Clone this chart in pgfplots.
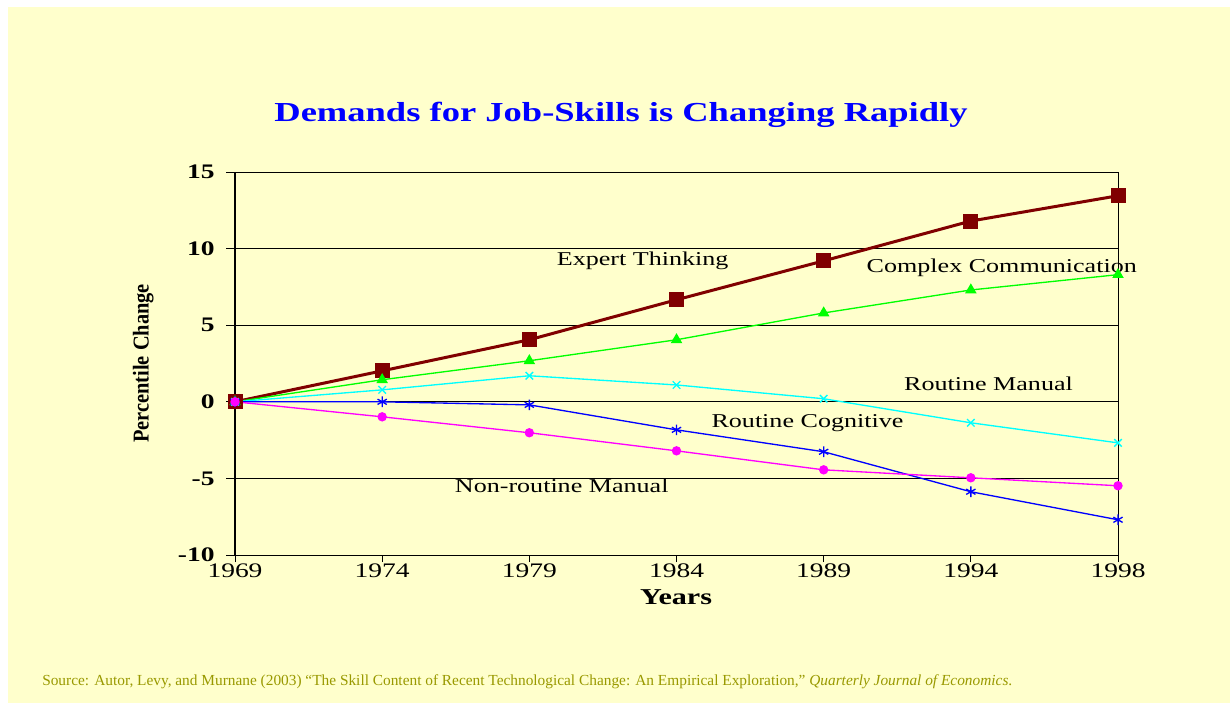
\documentclass[border=0pt]{standalone}
\usepackage{fontspec}
\setmainfont{Liberation Serif}
\usepackage{graphicx}
\usepackage{pgfplots}
\pgfplotsset{compat=1.18}
\definecolor{bgyellow}{RGB}{255,255,204}
\definecolor{darkred}{RGB}{128,0,0}
\definecolor{srcolive}{RGB}{153,153,0}
\definecolor{lgreen}{RGB}{0,255,0}
\definecolor{lcyan}{RGB}{0,255,255}
\definecolor{lblue}{RGB}{0,0,255}
\definecolor{lmagenta}{RGB}{255,0,255}
\newcommand{\wide}[1]{\scalebox{1.33}[1]{#1}}
\begin{document}
\begin{tikzpicture}
\fill[white] (0,0) rectangle (922.5pt,-527.25pt);
\fill[bgyellow] (6pt,-5.25pt) rectangle (922.5pt,-527.25pt);
\node[text=lblue, font=\fontsize{20.6}{24}\selectfont\bfseries] at (465.75pt,-86pt) {\wide{Demands for Job-Skills is Changing Rapidly}};
\begin{axis}[
  at={(176.25pt,-416.25pt)}, anchor=south west,
  width=662.25pt, height=287.25pt, scale only axis,
  xmin=0, xmax=6, ymin=-10, ymax=15,
  clip=false,
  xtick={0,...,6},
  xticklabels={\wide{1969},\wide{1974},\wide{1979},\wide{1984},\wide{1989},\wide{1994},\wide{1998}},
  ytick={-10,-5,0,5,10,15},
  yticklabels={\wide{\textbf{-10}},\wide{\textbf{-5}},\wide{\textbf{0}},\wide{\textbf{5}},\wide{\textbf{10}},\wide{\textbf{15}}},
  xticklabel style={font=\fontsize{15.5}{18}\selectfont, yshift=1pt},
  yticklabel style={font=\fontsize{15.5}{18}\selectfont, xshift=-7.5pt},
  tick pos=left,
  tick align=outside,
  xtick style={black, line width=0.75pt, /pgfplots/major tick length=5.25pt},
  ytick style={black, line width=0.75pt, /pgfplots/major tick length=6.75pt},
  ymajorgrids,
  major grid style={black, line width=0.75pt},
  axis line style={black, line width=0.75pt},
  xlabel={\wide{Years}},
  xlabel style={font=\fontsize{17}{20}\selectfont\bfseries, at={(rel axis cs:0.4995,-0.11)}, anchor=center},
  ylabel={\scalebox{0.9}[1]{Percentile Change}},
  ylabel style={font=\fontsize{17}{20}\selectfont\bfseries, at={(rel axis cs:-0.104,0.5)}, anchor=center},
]
\draw[black, line width=1.5pt] (rel axis cs:0,0) -- (rel axis cs:0,1);
\addplot[darkred, line width=2.25pt, mark=square*, mark size=4.5pt, mark options={solid}]
  coordinates {(0,0) (1,2.02) (2,4.05) (3,6.66) (4,9.2) (5,11.8) (6,13.45)};
\addplot[lgreen, line width=1pt, mark=triangle*, mark size=4pt, mark options={solid}]
  coordinates {(0,0) (1,1.44) (2,2.68) (3,4.05) (4,5.8) (5,7.3) (6,8.3)};
\addplot[lcyan, line width=1pt, mark=x, mark size=4pt, mark options={solid}]
  coordinates {(0,0) (1,0.78) (2,1.7) (3,1.1) (4,0.2) (5,-1.37) (6,-2.68)};
\addplot[lblue, line width=1pt, mark=asterisk, mark size=4pt, mark options={solid}]
  coordinates {(0,0) (1,0) (2,-0.2) (3,-1.83) (4,-3.26) (5,-5.87) (6,-7.7)};
\addplot[lmagenta, line width=1pt, mark=*, mark size=3pt, mark options={solid}]
  coordinates {(0,0) (1,-0.98) (2,-2.02) (3,-3.2) (4,-4.44) (5,-4.96) (6,-5.48)};
\begin{scope}[every node/.style={font=\fontsize{14.7}{17}\selectfont, inner sep=0pt}]
\node at (axis cs:2.77,9.2) {\wide{Expert Thinking}};
\node at (axis cs:5.21,8.75) {\wide{Complex Communication}};
\node at (axis cs:5.12,1.17) {\wide{Routine Manual}};
\node at (axis cs:3.89,-1.37) {\wide{Routine Cognitive}};
\node at (axis cs:2.22,-5.48) {\wide{Non-routine Manual}};
\end{scope}
\end{axis}
\node[anchor=west, inner sep=0pt, text=srcolive] at (31.5pt,-511.5pt) {\resizebox{727.5pt}{!}{\fontsize{9}{11}\selectfont Source: Autor, Levy, and Murnane (2003) “The Skill Content of Recent Technological Change: An Empirical Exploration,” \textit{Quarterly Journal of Economics}.}};
\pgfresetboundingbox
\path (0,0) rectangle (922.5pt,-527.25pt);
\end{tikzpicture}
\end{document}
